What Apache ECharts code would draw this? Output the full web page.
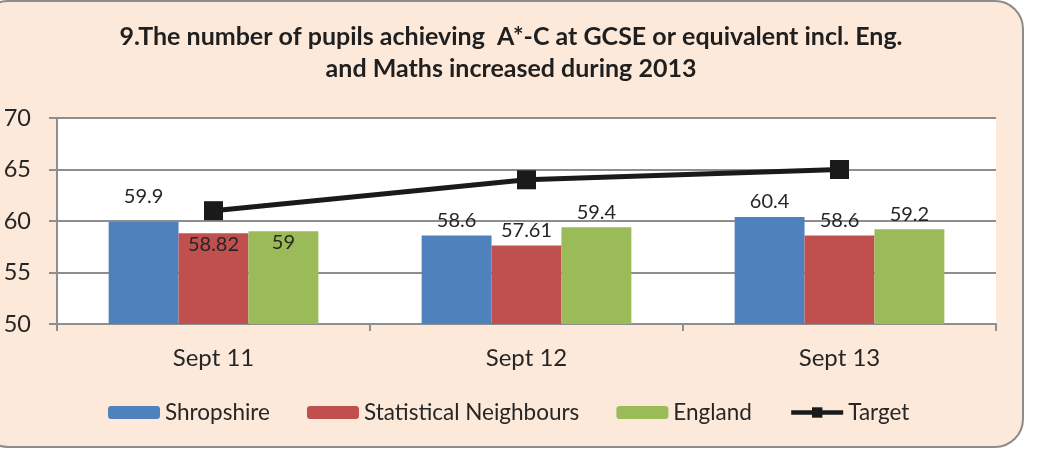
<!DOCTYPE html>
<html>
<head>
<meta charset="utf-8">
<script src="https://cdn.jsdelivr.net/npm/echarts@6/dist/echarts.min.js"></script>
<style>
html,body{margin:0;padding:0;background:#fff;}
#chart{width:1039px;height:450px;}
</style>
</head>
<body>
<div id="chart"></div>
<script>
const categories = ['Sept 11', 'Sept 12', 'Sept 13'];
const shropshire = [59.9, 58.6, 60.4];
const statNeighbours = [58.82, 57.61, 58.6];
const england = [59, 59.4, 59.2];
const target = [61, 64, 65];
const yTicks = { min: 50, max: 70, interval: 5 };
const titleText = '9.The number of pupils achieving  A*-C at GCSE or equivalent incl. Eng.\nand Maths increased during 2013';

const FONT = 'Lato';
const TXT = '#262626';
const GRIDC = '#8e8e8e';

function barLabel(dist) {
  return { show: true, position: 'top', distance: dist, fontFamily: FONT, fontSize: 20, color: TXT };
}
function withInside(arr, insideIdx, topDist) {
  return arr.map((v, i) => {
    if (insideIdx.includes(i)) return { value: v, label: { position: 'insideTop', distance: 1 } };
    if (topDist && topDist[i] !== undefined) return { value: v, label: { distance: topDist[i] } };
    return v;
  });
}

const chart = echarts.init(document.getElementById('chart'), null, { renderer: 'canvas' });
chart.setOption({
  backgroundColor: '#ffffff',
  animation: false,
  graphic: [{
    type: 'rect', z: -10, silent: true,
    shape: { x: -20, y: 1, width: 1043, height: 446, r: 28 },
    style: { fill: '#FCE9DA', stroke: '#8c8c8c', lineWidth: 2 }
  }],
  title: {
    text: titleText,
    left: 506, top: 16,
    textAlign: 'center',
    textStyle: { fontFamily: FONT, fontWeight: 'bold', fontSize: 25, color: '#1f1f1f', lineHeight: 32 }
  },
  grid: {
    left: 57, right: 43, top: 118, bottom: 126,
    show: true, backgroundColor: '#ffffff', borderWidth: 0
  },
  legend: {
    left: 108, top: 401, padding: 0,
    itemWidth: 52, itemHeight: 13, itemGap: 37,
    textStyle: { fontFamily: FONT, fontSize: 22.5, color: TXT },
    data: ['Shropshire', 'Statistical Neighbours', 'England',
      { name: 'Target', lineStyle: { width: 4.5, color: '#1a1a1a' } }]
  },
  xAxis: {
    type: 'category',
    data: categories,
    axisLine: { lineStyle: { color: GRIDC, width: 2 } },
    axisTick: { show: true, interval: 0, length: 7, lineStyle: { color: GRIDC, width: 2 } },
    axisLabel: { fontFamily: FONT, fontSize: 24, color: TXT, margin: 22 }
  },
  yAxis: {
    type: 'value',
    min: yTicks.min, max: yTicks.max, interval: yTicks.interval,
    axisLine: { show: true, lineStyle: { color: GRIDC, width: 2 } },
    axisTick: { show: true, length: 8, lineStyle: { color: GRIDC, width: 2 } },
    axisLabel: { fontFamily: FONT, fontSize: 23.5, color: TXT, margin: 26 },
    splitLine: { lineStyle: { color: GRIDC, width: 2 } }
  },
  series: [
    {
      name: 'Shropshire', type: 'bar', data: withInside(shropshire, [], { 0: 15 }),
      barGap: '0%', barCategoryGap: '33%',
      itemStyle: { color: '#4F81BD' }, label: barLabel(5)
    },
    {
      name: 'Statistical Neighbours', type: 'bar', data: withInside(statNeighbours, [0]),
      itemStyle: { color: '#C0504D' }, label: barLabel(5)
    },
    {
      name: 'England', type: 'bar', data: withInside(england, [0]),
      itemStyle: { color: '#9BBB59' }, label: barLabel(5)
    },
    {
      name: 'Target', type: 'line', data: target,
      symbol: 'rect', symbolSize: 19,
      lineStyle: { color: '#1a1a1a', width: 5 },
      itemStyle: { color: '#1a1a1a' },
      z: 5
    }
  ]
});
</script>
</body>
</html>
